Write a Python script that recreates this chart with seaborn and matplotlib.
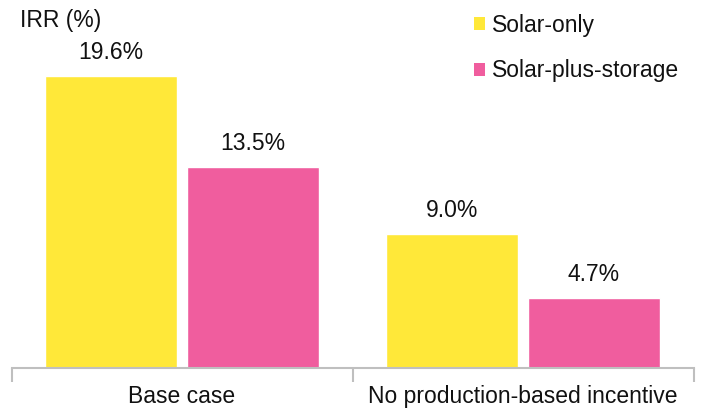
import matplotlib
matplotlib.use("Agg")
import matplotlib.pyplot as plt
import seaborn as sns
import pandas as pd
from matplotlib.patches import Patch

categories = ["Base case", "No production-based incentive"]
series = ["Solar-only", "Solar-plus-storage"]
solar_only = [19.6, 9.0]
solar_storage = [13.5, 4.7]
colors = ["#FFE839", "#F05D9E"]

df = pd.DataFrame({
    "case": categories * 2,
    "series": [series[0]] * 2 + [series[1]] * 2,
    "irr": solar_only + solar_storage,
})

FS = 16.5
sns.set_style("white")
plt.rcParams["font.family"] = ["Liberation Sans", "DejaVu Sans"]

fig = plt.figure(figsize=(7.01, 4.11), dpi=100)
ax = fig.add_axes([11.5 / 701, (411 - 368) / 411, 682 / 701, 368 / 411])
sns.barplot(data=df, x="case", y="irr", hue="series", order=categories,
            hue_order=series, palette=colors, width=0.83, gap=0.07,
            saturation=1, ax=ax, legend=False)

for cont in ax.containers:
    ax.bar_label(cont, fmt="%.1f%%", padding=8.7, fontsize=FS, color="#111111")

ax.set_xlim(-0.5, 1.5)
ax.set_ylim(0, 24.7)
ax.set_xlabel("")
ax.set_ylabel("")
ax.set_yticks([])
for s in ["top", "right", "left"]:
    ax.spines[s].set_visible(False)
ax.spines["bottom"].set_color("#BFBFBF")
ax.spines["bottom"].set_linewidth(1.5)
ax.set_xticks([-0.5, 0.5, 1.5], minor=True)
ax.tick_params(axis="x", which="minor", length=10, width=1.5, color="#BFBFBF", bottom=True)
ax.tick_params(axis="x", which="major", length=0, pad=12.5, labelsize=FS, labelcolor="#111111")

fig.text(20 / 701, 1 - 20 / 411, "IRR (%)", fontsize=FS, va="center", ha="left", color="#111111")

handles = [Patch(facecolor=c, edgecolor="none") for c in colors]
fig.legend(handles, series, loc="upper left", bbox_to_anchor=(474 / 701, 1 - 14 / 411),
           frameon=False, fontsize=FS, handlelength=0.5, handleheight=0.5,
           handletextpad=0.3, labelspacing=0.97, borderpad=0, borderaxespad=0,
           labelcolor="#111111")

fig.savefig("out.png", dpi=100)
